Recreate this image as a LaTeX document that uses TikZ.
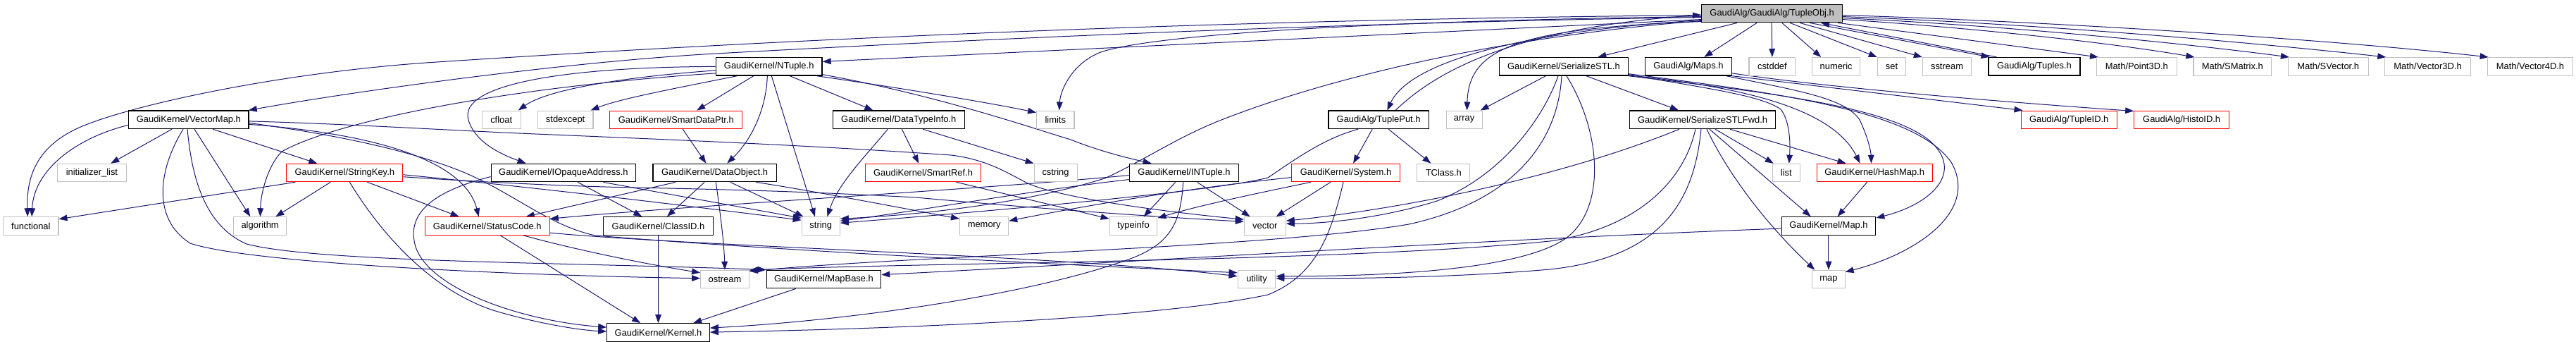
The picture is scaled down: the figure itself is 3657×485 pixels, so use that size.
\documentclass[tikz,border=0pt]{standalone}
\usepackage{fontspec}
\newfontfamily\dfont{Liberation Sans}
\usetikzlibrary{arrows.meta,calc}
\definecolor{edgec}{HTML}{191970}
\definecolor{graybd}{HTML}{C0C0C0}
\definecolor{rootfill}{HTML}{BFBFBF}
\pgfdeclarelayer{bg}
\pgfsetlayers{bg,main}
\tikzset{
 nbox/.style={draw, rectangle, inner sep=0pt, minimum height=19.125pt, font=\dfont\fontsize{9.7pt}{11pt}\selectfont, line width=0.8pt, fill=white},
 gbox/.style={nbox, draw=graybd},
 bbox/.style={nbox, draw=black, line width=1pt},
 rbox/.style={nbox, draw=red},
 rootbox/.style={nbox, draw=black, fill=rootfill, line width=1pt},
 dep/.style={draw=edgec, line width=0.75pt, -{Triangle[length=9pt,width=6.5pt]}},
}
\begin{document}
\begin{tikzpicture}[x=0.75pt,y=-0.75pt]
\useasboundingbox (0,0) rectangle (3657,485);
\begin{pgfonlayer}{bg}
\fill[white] (0,0) rectangle (3657,485);
\end{pgfonlayer}
% row 1
\node[rootbox, minimum width=149.8pt] (tobj) at (2515.65,19) {GaudiAlg/GaudiAlg/TupleObj.h};
% row 2
\node[bbox, minimum width=112.95pt] (ntuple) at (1091.7,94.3) {GaudiKernel/NTuple.h};
\node[bbox, minimum width=137.0pt] (sstl) at (2219.95,94.3) {GaudiKernel/SerializeSTL.h};
\node[bbox, minimum width=92.3pt] (maps) at (2396.95,94.3) {GaudiAlg/Maps.h};
\node[gbox, minimum width=49.3pt] (cstddef) at (2515.85,94.3) {cstddef};
\node[gbox, minimum width=51.3pt] (numeric) at (2606.6,94.3) {numeric};
\node[gbox, minimum width=30.3pt] (set) at (2685.5,94.3) {set};
\node[gbox, minimum width=51.9pt] (sstream) at (2764,94.3) {sstream};
\node[bbox, minimum width=97.3pt] (tuples) at (2887.95,94.3) {GaudiAlg/Tuples.h};
\node[gbox, minimum width=85.2pt] (point) at (3033.3,94.3) {Math/Point3D.h};
\node[gbox, minimum width=83.0pt] (smatrix) at (3169.3,94.3) {Math/SMatrix.h};
\node[gbox, minimum width=85.2pt] (svector) at (3305.2,94.3) {Math/SVector.h};
\node[gbox, minimum width=91.1pt] (vec3) at (3446.55,94.3) {Math/Vector3D.h};
\node[gbox, minimum width=91.1pt] (vec4) at (3591.95,94.3) {Math/Vector4D.h};
% row 3
\node[bbox, minimum width=127.8pt] (vmap) at (267.9,169.8) {GaudiKernel/VectorMap.h};
\node[gbox, minimum width=41.25pt] (cfloat) at (711.7,169.8) {cfloat};
\node[gbox, minimum width=59.0pt] (stdexcept) at (802.65,169.8) {stdexcept};
\node[rbox, minimum width=141.15pt] (sdp) at (959.8,169.8) {GaudiKernel/SmartDataPtr.h};
\node[bbox, minimum width=140.1pt] (dti) at (1275.8,169.8) {GaudiKernel/DataTypeInfo.h};
\node[gbox, minimum width=40.05pt] (limits) at (1498.3,169.8) {limits};
\node[bbox, minimum width=107.0pt] (tput) at (1957.15,169.8) {GaudiAlg/TuplePut.h};
\node[gbox, minimum width=38.25pt] (array) at (2078.6,169.8) {array};
\node[bbox, minimum width=155.25pt] (sstlf) at (2417.1,169.8) {GaudiKernel/SerializeSTLFwd.h};
\node[rbox, minimum width=102.3pt] (tid) at (2937.2,169.8) {GaudiAlg/TupleID.h};
\node[rbox, minimum width=101.2pt] (hid) at (3097.15,169.8) {GaudiAlg/HistoID.h};
% row 4
\node[gbox, minimum width=73.0pt] (initl) at (130.45,245) {initializer\_list};
\node[rbox, minimum width=123.7pt] (skey) at (489.35,245) {GaudiKernel/StringKey.h};
\node[bbox, minimum width=153.9pt] (ioa) at (799.9,245) {GaudiKernel/IOpaqueAddress.h};
\node[bbox, minimum width=131.4pt] (dobj) at (1014.6,245) {GaudiKernel/DataObject.h};
\node[rbox, minimum width=123.1pt] (sref) at (1310.55,245) {GaudiKernel/SmartRef.h};
\node[gbox, minimum width=45.7pt] (cstring) at (1498.55,245) {cstring};
\node[bbox, minimum width=116.55pt] (intuple) at (1681,245) {GaudiKernel/INTuple.h};
\node[rbox, minimum width=115.35pt] (system) at (1910.5,245) {GaudiKernel/System.h};
\node[gbox, minimum width=56.1pt] (tclass) at (2049.3,245) {TClass.h};
\node[gbox, minimum width=29.3pt] (list) at (2535.85,245) {list};
\node[rbox, minimum width=123.1pt] (hmap) at (2661.15,245) {GaudiKernel/HashMap.h};
% row 5
\node[gbox, minimum width=58.7pt] (functional) at (43.85,320.5) {functional};
\node[gbox, minimum width=56.0pt] (algorithm) at (369.15,320.5) {algorithm};
\node[rbox, minimum width=132.8pt] (scode) at (691.75,320.5) {GaudiKernel/StatusCode.h};
\node[bbox, minimum width=116.85pt] (classid) at (934.5,320.5) {GaudiKernel/ClassID.h};
\node[gbox, minimum width=40.6pt] (string) at (1165.25,320.5) {string};
\node[gbox, minimum width=51.9pt] (memory) at (1397.1,320.5) {memory};
\node[gbox, minimum width=50.8pt] (typeinfo) at (1609.05,320.5) {typeinfo};
\node[gbox, minimum width=44.3pt] (vector) at (1795.75,320.5) {vector};
\node[bbox, minimum width=100.0pt] (mapH) at (2595.95,320.5) {GaudiKernel/Map.h};
% row 6
\node[gbox, minimum width=51.6pt] (ostream) at (1029,396) {ostream};
\node[bbox, minimum width=121.7pt] (mapbase) at (1169.45,396) {GaudiKernel/MapBase.h};
\node[gbox, minimum width=40.35pt] (utility) at (1784,396) {utility};
\node[gbox, minimum width=34.7pt] (map) at (2595.95,396) {map};
% row 7
\node[bbox, minimum width=109.1pt] (kernel) at (934.55,471.5) {GaudiKernel/Kernel.h};

\begin{pgfonlayer}{bg}
% ---- TupleObj
\draw[dep] ($(tobj.north west)+(0,16)$) .. controls (1800,27) and (1200,50) .. (620,88) .. controls (400,102) and (180,150) .. (110,182) .. controls (45,212) and (38,260) .. ($(functional.north west)+(35,0)$);
\draw[dep] ($(tobj.north west)+(0,19)$) .. controls (1900,32) and (1400,55) .. (1016,76) .. controls (800,88) and (500,130) .. ($(vmap.north east)+(-1,0)$);
\draw[dep] ($(tobj.north west)+(0,22)$) -- ($(ntuple.north east)+(0,6.5)$);
\draw[dep] ($(tobj.north west)+(0,18)$) .. controls (1900,30) and (1620,52) .. (1560,75) .. controls (1520,92) and (1505,130) .. ($(limits.north west)+(32.7,0)$);
\draw[dep] ($(tobj.north west)+(0,24)$) .. controls (2150,50) and (1900,105) .. (1734,170) .. controls (1670,195) and (1620,230) .. (1568,253) .. controls (1450,290) and (1300,305) .. ($(string.north east)+(0,3)$);
\draw[dep] ($(tobj.north west)+(0,23)$) .. controls (2150,45) and (2000,90) .. ($(tput.north west)+(84.2,0)$);
\draw[dep] ($(tput.north west)+(96,0)$) .. controls (2040,100) and (2150,40) .. ($(tobj.north west)+(0,15.5)$);
\draw[dep] ($(tobj.north west)+(0,25)$) .. controls (2150,40) and (2085,70) .. ($(array.north west)+(30,0)$);
\draw[dep] ($(tobj.south west)+(51,0)$) -- ($(sstl.north west)+(140.4,0)$);
\draw[dep] ($(tobj.south west)+(79,0)$) -- ($(maps.north west)+(84.6,0)$);
\draw[dep] ($(tobj.south west)+(100,0)$) -- (cstddef.north);
\draw[dep] ($(tobj.south west)+(114.7,0)$) -- ($(numeric.north west)+(13.4,0)$);
\draw[dep] ($(tobj.south west)+(126,0)$) -- (set.north west);
\draw[dep] ($(tobj.south west)+(140,0)$) -- (sstream.north west);
\draw[dep] ($(tobj.south west)+(154,0)$) -- ($(tuples.north west)+(2,0)$);
\draw[dep] ($(tuples.north west)+(12,0)$) -- ($(tobj.south west)+(170,0)$);
\draw[dep] ($(tobj.south west)+(194,0)$) -- ($(point.north west)+(3,0)$);
\draw[dep] ($(tobj.north east)+(0,22)$) .. controls (2780,38) and (2980,58) .. ($(smatrix.north west)+(2,0)$);
\draw[dep] ($(tobj.north east)+(0,20)$) .. controls (2800,34) and (3050,55) .. ($(svector.north west)+(2,0)$);
\draw[dep] ($(tobj.north east)+(0,18)$) .. controls (2850,32) and (3150,55) .. ($(vec3.north west)+(2,0)$);
\draw[dep] ($(tobj.north east)+(0,16)$) .. controls (2900,30) and (3300,55) .. ($(vec4.north west)+(2,0)$);
% ---- NTuple
\draw[dep] ($(ntuple.north west)+(0,23)$) .. controls (700,125) and (470,175) .. (400,215) .. controls (380,235) and (370,275) .. ($(algorithm.north west)+(38.2,0)$);
\draw[dep] ($(ntuple.north west)+(0,19)$) .. controls (900,108) and (780,125) .. ($(cfloat.north east)+(-4,0)$);
\draw[dep] ($(ntuple.south west)+(30.6,0)$) .. controls (960,125) and (880,140) .. ($(stdexcept.north east)+(-4,0)$);
\draw[dep] ($(ntuple.north west)+(0,13.5)$) .. controls (800,95) and (650,120) .. (665,170) .. controls (675,205) and (720,222) .. ($(ioa.north west)+(50,0)$);
\draw[dep] ($(ntuple.south west)+(54,0)$) -- ($(sdp.north west)+(124,0)$);
\draw[dep] ($(ntuple.south west)+(73.6,0)$) .. controls (1088,150) and (1070,195) .. ($(dobj.north west)+(106,0)$);
\draw[dep] ($(ntuple.south west)+(79.6,0)$) -- ($(string.north west)+(19.3,0)$);
\draw[dep] ($(ntuple.south west)+(105.6,0)$) -- ($(dti.north west)+(57.6,0)$);
\draw[dep] ($(ntuple.south east)+(-8,0)$) .. controls (1280,125) and (1400,145) .. ($(limits.north west)+(0,3)$);
\draw[dep] ($(ntuple.south east)+(0,-2)$) .. controls (1330,135) and (1460,180) .. (1520,198) .. controls (1560,214) and (1600,224) .. ($(intuple.north west)+(32,0)$);
% ---- DataTypeInfo, SmartDataPtr
\draw[dep] ($(dti.south west)+(78.6,0)$) .. controls (1230,220) and (1190,260) .. ($(string.north west)+(36.8,0)$);
\draw[dep] ($(dti.south west)+(98.6,0)$) -- ($(sref.north west)+(76.3,0)$);
\draw[dep] ($(dti.south west)+(128.3,0)$) -- (cstring.north west);
\draw[dep] ($(sdp.south west)+(104,0)$) -- ($(dobj.north west)+(76,0)$);
% ---- IOpaqueAddress
\draw[dep] ($(ioa.north west)+(0,19)$) .. controls (620,270) and (575,300) .. (590,350) .. controls (610,410) and (740,455) .. ($(kernel.north west)+(0,6)$);
\draw[dep] ($(ioa.south west)+(123.7,0)$) -- ($(classid.north west)+(55.4,0)$);
\draw[dep] ($(ioa.south west)+(159.7,0)$) -- ($(string.north west)+(0,2)$);
% ---- DataObject
\draw[dep] ($(dobj.south west)+(32.5,0)$) -- ($(scode.north west)+(144,0)$);
\draw[dep] ($(dobj.south west)+(73.8,0)$) -- ($(classid.north west)+(91,0)$);
\draw[dep] ($(dobj.south west)+(90,0)$) .. controls (1025,320) and (1028,350) .. (ostream.north);
\draw[dep] ($(dobj.south west)+(110.5,0)$) -- ($(string.north west)+(3,0)$);
\draw[dep] ($(dobj.south west)+(147,0)$) .. controls (1150,270) and (1280,295) .. ($(memory.north west)+(0,3)$);
% ---- StatusCode, ClassID, MapBase
\draw[dep] ($(scode.south west)+(140,0)$) .. controls (820,355) and (920,375) .. ($(ostream.north west)+(0,4)$);
\draw[dep] ($(scode.north east)+(0,23)$) .. controls (1000,350) and (1500,362) .. ($(utility.north west)+(0,9)$);
\draw[dep] ($(scode.south west)+(107.5,0)$) -- ($(kernel.north west)+(48,0)$);
\draw[dep] (classid.south) -- (kernel.north);
\draw[dep] ($(mapbase.south west)+(42,0)$) -- ($(kernel.north west)+(123,0)$);
% ---- StringKey
\draw[dep] ($(skey.south west)+(13,0)$) -- ($(functional.north east)+(0,3.5)$);
\draw[dep] ($(skey.south west)+(63,0)$) -- ($(algorithm.north west)+(60,0)$);
\draw[dep] ($(skey.south west)+(90,0)$) .. controls (540,330) and (610,410) .. (700,440) .. controls (760,458) and (820,468) .. ($(kernel.north west)+(0,12)$);
\draw[dep] ($(skey.south west)+(115,0)$) -- ($(scode.north west)+(49,0)$);
\draw[dep] ($(skey.north east)+(0,16)$) .. controls (800,270) and (1000,295) .. ($(string.north west)+(0,5)$);
\draw[dep] ($(skey.north east)+(0,19)$) .. controls (680,258) and (800,264) .. (900,266) .. controls (1050,269) and (1150,272) .. (1300,280) .. controls (1500,298) and (1650,308) .. ($(vector.north west)+(0,7)$);
% ---- VectorMap
\draw[dep] ($(vmap.north west)+(0,21)$) .. controls (110,195) and (48,240) .. ($(functional.north west)+(41,0)$);
\draw[dep] ($(vmap.south west)+(62,0)$) -- ($(initl.north west)+(76,0)$);
\draw[dep] ($(vmap.south west)+(94,0)$) -- ($(algorithm.north west)+(24,0)$);
\draw[dep] ($(vmap.south west)+(120,0)$) -- ($(skey.north west)+(44,0)$);
\draw[dep] ($(vmap.south west)+(78,0)$) .. controls (225,240) and (215,310) .. (270,345) .. controls (350,372) and (700,390) .. ($(ostream.north west)+(0,12)$);
\draw[dep] ($(vmap.south west)+(84,0)$) .. controls (272,250) and (290,320) .. (350,346) .. controls (450,372) and (800,372) .. (mapbase.north west);
\draw[dep] ($(vmap.north east)+(0,18)$) .. controls (470,190) and (580,212) .. (660,245) .. controls (730,275) and (780,320) .. (845,334) .. controls (1100,355) and (1500,375) .. ($(utility.north west)+(0,4)$);
\draw[dep] ($(vmap.north east)+(0,20)$) .. controls (540,190) and (660,230) .. ($(scode.north west)+(77,0)$);
\draw[dep] ($(vmap.north east)+(0,15.5)$) .. controls (500,176) and (620,184) .. (760,190) .. controls (950,198) and (1150,206) .. (1350,220) .. controls (1400,226) and (1430,245) .. (1457,259) .. controls (1500,280) and (1650,300) .. ($(vector.north west)+(0,4)$);
% ---- INTuple
\draw[dep] ($(intuple.north west)+(0,17)$) .. controls (1400,268) and (1000,290) .. ($(scode.north east)+(0,3)$);
\draw[dep] ($(intuple.north west)+(0,23)$) .. controls (1450,272) and (1300,300) .. ($(string.north east)+(0,6)$);
\draw[dep] ($(intuple.south west)+(66,0)$) -- ($(typeinfo.north west)+(49,0)$);
\draw[dep] ($(intuple.south west)+(77,0)$) .. controls (1676,320) and (1660,350) .. (1590,372) .. controls (1450,420) and (1200,455) .. ($(kernel.north east)+(0,7)$);
\draw[dep] ($(intuple.south west)+(97,0)$) -- ($(vector.north west)+(9,0)$);
% ---- System
\draw[dep] ($(system.north west)+(0,20)$) .. controls (1700,265) and (1550,290) .. ($(memory.north east)+(0,6)$);
\draw[dep] ($(system.south west)+(28,0)$) .. controls (1780,275) and (1700,292) .. ($(typeinfo.north east)+(0,2)$);
\draw[dep] ($(system.south west)+(56,0)$) -- ($(vector.north west)+(46,0)$);
\draw[dep] ($(system.south west)+(74,0)$) .. controls (1890,330) and (1870,390) .. (1800,418) .. controls (1650,450) and (1300,466) .. ($(kernel.north east)+(0,13)$);
% ---- TuplePut, SmartRef
\draw[dep] ($(tput.south west)+(63,0)$) -- ($(system.north west)+(88,0)$);
\draw[dep] ($(tput.south west)+(86,0)$) -- ($(tclass.north west)+(20,0)$);
\draw[dep] ($(tput.south west)+(43,0)$) .. controls (1880,196) and (1840,225) .. (1800,252) .. controls (1720,272) and (1400,300) .. ($(string.north east)+(0,9)$);
\draw[dep] ($(sref.south west)+(129.5,0)$) -- ($(typeinfo.north west)+(0,3)$);
% ---- HashMap, Map, Maps
\draw[dep] ($(hmap.south west)+(72,0)$) -- ($(mapH.north west)+(80,0)$);
\draw[dep] (mapH.south) -- (map.north);
\draw[dep] ($(mapH.north west)+(0,17)$) .. controls (2100,340) and (1600,372) .. ($(mapbase.north east)+(0,7)$);
\draw[dep] ($(maps.south west)+(116,0)$) .. controls (2560,130) and (2620,140) .. (2640,170) .. controls (2652,195) and (2656,215) .. ($(hmap.north west)+(78,0)$);
\draw[dep] (maps.south east) -- ($(tid.north west)+(3,0)$);
\draw[dep] ($(maps.north east)+(0,23)$) .. controls (2600,125) and (2850,145) .. ($(hid.north west)+(0,1)$);
% ---- SerializeSTL
\draw[dep] ($(sstl.south west)+(66.4,0)$) -- ($(array.north east)+(-3,0)$);
\draw[dep] ($(sstl.south west)+(124,0)$) -- ($(sstlf.north west)+(70,0)$);
\draw[dep] ($(sstl.south west)+(84,0)$) .. controls (2190,170) and (2130,250) .. (2040,285) .. controls (1960,310) and (1880,317) .. ($(vector.north east)+(0,10)$);
\draw[dep] ($(sstl.south west)+(89,0)$) .. controls (2212,200) and (2150,285) .. (2000,318) .. controls (1800,352) and (1300,362) .. ($(ostream.north east)+(0,2)$);
\draw[dep] ($(sstl.south west)+(96,0)$) .. controls (2275,190) and (2280,300) .. (2220,340) .. controls (2150,385) and (1950,392) .. ($(utility.north east)+(0,9)$);
\draw[dep] ($(sstl.south east)+(0,-2)$) .. controls (2420,125) and (2500,135) .. (2528,155) .. controls (2540,170) and (2542,200) .. ($(list.north west)+(24,0)$);
\draw[dep] ($(sstl.south east)+(0,-1)$) .. controls (2460,122) and (2600,150) .. ($(hmap.north west)+(62,0)$);
\draw[dep] (sstl.south east) .. controls (2500,130) and (2680,150) .. (2740,200) .. controls (2790,245) and (2740,290) .. ($(mapH.north east)+(0,2)$);
\draw[dep] ($(sstl.south east)+(0,-3)$) .. controls (2550,135) and (2720,160) .. (2770,230) .. controls (2810,300) and (2720,360) .. ($(map.north east)+(0,3)$);
% ---- SerializeSTLFwd
\draw[dep] ($(sstlf.south west)+(71,0)$) .. controls (2220,250) and (2000,295) .. ($(vector.north east)+(0,6)$);
\draw[dep] ($(sstlf.south west)+(94,0)$) .. controls (2390,260) and (2320,325) .. (2200,342) .. controls (1900,372) and (1300,372) .. ($(ostream.north east)+(0,0.5)$);
\draw[dep] ($(sstlf.south west)+(102,0)$) .. controls (2405,285) and (2360,365) .. (2200,382) .. controls (2050,395) and (1900,395) .. ($(utility.north east)+(0,12)$);
\draw[dep] ($(sstlf.south west)+(110,0)$) .. controls (2460,260) and (2520,330) .. ($(map.north west)+(4,0)$);
\draw[dep] ($(sstlf.south west)+(114,0)$) -- ($(mapH.north west)+(42,0)$);
\draw[dep] ($(sstlf.south west)+(122,0)$) -- ($(list.north west)+(2,0)$);
\draw[dep] ($(sstlf.south west)+(143,0)$) -- ($(hmap.north west)+(42,0)$);
\end{pgfonlayer}
\end{tikzpicture}
\end{document}
